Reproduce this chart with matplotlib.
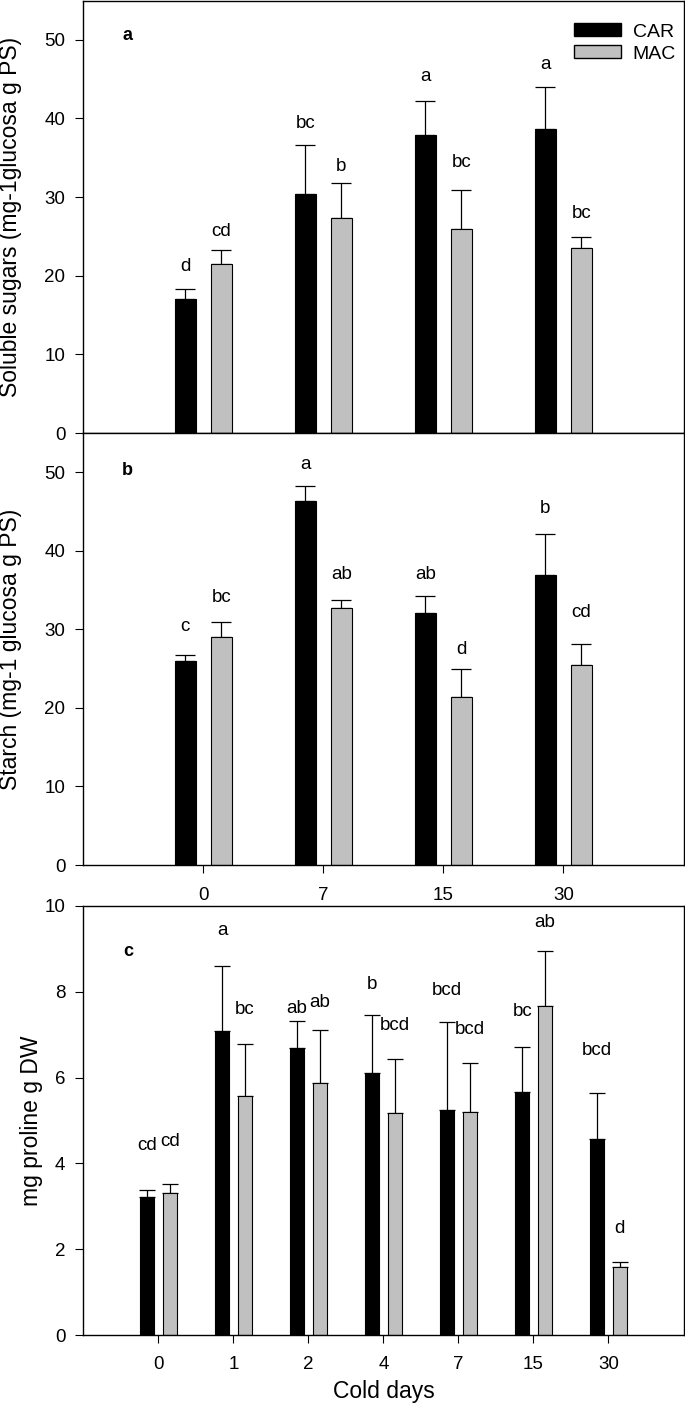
import numpy as np
import matplotlib

matplotlib.use("Agg")
import matplotlib.pyplot as plt
from matplotlib.patches import Patch

plt.rcParams.update({
    "font.family": ["Liberation Sans", "DejaVu Sans"],
    "axes.linewidth": 1.0,
    "xtick.direction": "out",
    "ytick.direction": "out",
})

GREY = "#c0c0c0"

# a: azúcares solubles
DAYS_AB = ["0", "7", "15", "30"]
SUG_CAR = [17.1, 30.4, 37.9, 38.7]
SUG_CAR_ERR = [1.2, 6.2, 4.3, 5.3]
SUG_MAC = [21.5, 27.3, 26.0, 23.5]
SUG_MAC_ERR = [1.8, 4.5, 4.9, 1.4]
SUG_LET_CAR = ["d", "bc", "a", "a"]
SUG_LET_MAC = ["cd", "b", "bc", "bc"]
SUG_LY_CAR = [21.2, 39.4, 45.3, 46.8]
SUG_LY_MAC = [25.6, 33.9, 34.4, 27.9]

# b: almidón
STA_CAR = [26.0, 46.3, 32.1, 36.9]
STA_CAR_ERR = [0.7, 1.9, 2.1, 5.2]
STA_MAC = [29.0, 32.7, 21.4, 25.4]
STA_MAC_ERR = [2.0, 1.1, 3.5, 2.7]
STA_LET_CAR = ["c", "a", "ab", "b"]
STA_LET_MAC = ["bc", "ab", "d", "cd"]
STA_LY_CAR = [30.4, 51.0, 37.0, 45.4]
STA_LY_MAC = [34.0, 37.0, 27.5, 32.2]

# c: prolina
DAYS_C = ["0", "1", "2", "4", "7", "15", "30"]
PRO_CAR = [3.22, 7.09, 6.68, 6.11, 5.24, 5.67, 4.58]
PRO_CAR_ERR = [0.17, 1.50, 0.65, 1.36, 2.06, 1.04, 1.07]
PRO_MAC = [3.31, 5.56, 5.88, 5.17, 5.20, 7.67, 1.58]
PRO_MAC_ERR = [0.21, 1.22, 1.23, 1.27, 1.14, 1.27, 0.11]
PRO_LET_CAR = ["cd", "a", "ab", "b", "bcd", "bc", "bcd"]
PRO_LET_MAC = ["cd", "bc", "ab", "bcd", "bcd", "ab", "d"]
PRO_LY_CAR = [4.41, 9.43, 7.60, 8.18, 8.02, 7.54, 6.64]
PRO_LY_MAC = [4.50, 7.58, 7.76, 7.22, 7.11, 9.61, 2.49]

W = 1406
fig = plt.figure(figsize=(6.85, 14.06), dpi=100)
L, R = 83.4 / 685, 683.5 / 685


def frac(top_px, bot_px):
    return [L, 1 - bot_px / W, R - L, (bot_px - top_px) / W]


def panel(ax, cats, car, car_err, mac, mac_err, lc, lyc, lm, lym, off, w, cap):
    x = np.arange(len(cats))
    ax.bar(x - off, car, w, color="black", edgecolor="black", linewidth=0.8, zorder=2)
    ax.bar(x + off, mac, w, color=GREY, edgecolor="black", linewidth=0.8, zorder=2)
    for xs, v, e in ((x - off, car, car_err), (x + off, mac, mac_err)):
        ax.errorbar(xs, v, yerr=[np.zeros(len(v)), e], fmt="none", ecolor="black",
                    elinewidth=0.9, capsize=cap, capthick=0.9, zorder=1)
    for i in range(len(cats)):
        ax.text(x[i] - off, lyc[i], lc[i], ha="center", va="center", fontsize=13.5)
        ax.text(x[i] + off, lym[i], lm[i], ha="center", va="center", fontsize=13.5)
    ax.set_xlim(-1, len(cats))
    ax.tick_params(axis="y", labelsize=13.5, length=6, pad=7)
    ax.tick_params(axis="x", labelsize=13.5, length=6)
    return x


ax1 = fig.add_axes(frac(0.5, 433))
ax2 = fig.add_axes(frac(433, 865))
ax3 = fig.add_axes(frac(906, 1335))

panel(ax1, DAYS_AB, SUG_CAR, SUG_CAR_ERR, SUG_MAC, SUG_MAC_ERR,
      SUG_LET_CAR, SUG_LY_CAR, SUG_LET_MAC, SUG_LY_MAC, 0.15, 0.18, 7.5)
ax1.set_ylim(0, 55)
ax1.set_yticks([0, 10, 20, 30, 40, 50])
ax1.set_xticks([])
ax1.set_ylabel("Soluble sugars (mg-1glucosa g PS)", fontsize=16.5)
ax1.yaxis.set_label_coords(-0.103, 0.5)
ax1.text(-0.63, 50.6, "a", fontsize=13, fontweight="bold", ha="center", va="center")
ax1.legend(handles=[Patch(facecolor="black", edgecolor="black", label="CAR"),
                    Patch(facecolor=GREY, edgecolor="black", label="MAC")],
           loc="upper right", bbox_to_anchor=(1.01, 0.979), frameon=False, fontsize=14,
           handlelength=2.4, handleheight=0.65, handletextpad=0.6, labelspacing=0.25,
           borderaxespad=0.3)

x2 = panel(ax2, DAYS_AB, STA_CAR, STA_CAR_ERR, STA_MAC, STA_MAC_ERR,
           STA_LET_CAR, STA_LY_CAR, STA_LET_MAC, STA_LY_MAC, 0.15, 0.18, 7.5)
ax2.set_ylim(0, 55)
ax2.set_yticks([0, 10, 20, 30, 40, 50])
ax2.set_xticks(x2)
ax2.set_xticklabels(DAYS_AB)
ax2.tick_params(axis="x", pad=10)
ax2.set_ylabel("Starch (mg-1 glucosa g PS)", fontsize=16.5)
ax2.yaxis.set_label_coords(-0.103, 0.5)
ax2.text(-0.63, 50.2, "b", fontsize=13, fontweight="bold", ha="center", va="center")

x3 = panel(ax3, DAYS_C, PRO_CAR, PRO_CAR_ERR, PRO_MAC, PRO_MAC_ERR,
           PRO_LET_CAR, PRO_LY_CAR, PRO_LET_MAC, PRO_LY_MAC, 0.15, 0.19, 5.5)
ax3.set_ylim(0, 10)
ax3.set_yticks([0, 2, 4, 6, 8, 10])
ax3.set_xticks(x3)
ax3.set_xticklabels(DAYS_C)
ax3.tick_params(axis="x", pad=9)
ax3.set_ylabel("mg proline g DW", fontsize=16.5)
ax3.yaxis.set_label_coords(-0.068, 0.5)
ax3.set_xlabel("Cold days", fontsize=16.5, labelpad=5)
ax3.text(-0.405, 8.93, "c", fontsize=13, fontweight="bold", ha="center", va="center")

fig.savefig("out.png", dpi=100)
